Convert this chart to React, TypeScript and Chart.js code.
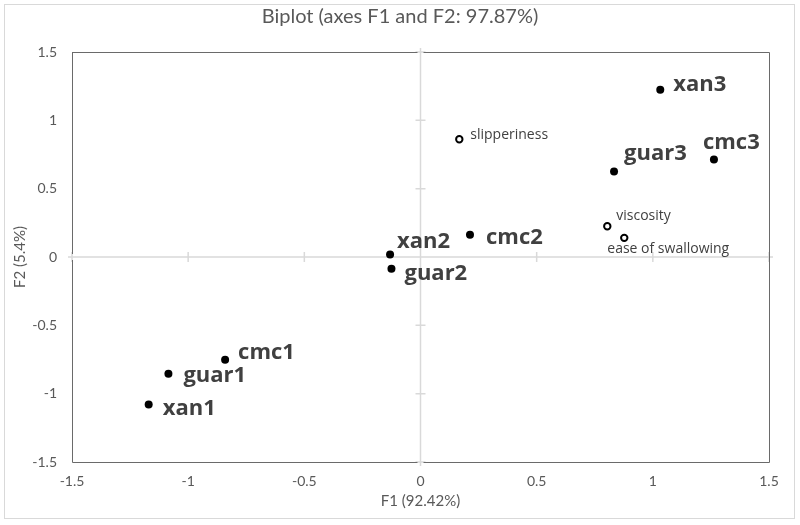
import React, { useEffect, useRef } from "react";
import { Chart, registerables } from "chart.js";

Chart.register(...registerables);

// ---- data ----
const obsNames = ["xan1", "guar1", "cmc1", "xan2", "guar2", "cmc2", "xan3", "guar3", "cmc3"];
const obsF1 = [-1.17, -1.085, -0.841, -0.131, -0.125, 0.213, 1.032, 0.833, 1.263];
const obsF2 = [-1.079, -0.855, -0.752, 0.018, -0.086, 0.162, 1.223, 0.626, 0.713];

const varNames = ["slipperiness", "viscosity", "ease of swallowing"];
const varF1 = [0.167, 0.804, 0.877];
const varF2 = [0.862, 0.225, 0.14];

const axisTicks = [-1.5, -1, -0.5, 0, 0.5, 1, 1.5];
const axisTickLabels = ["-1.5", "-1", "-0.5", "0", "0.5", "1", "1.5"];
const chartTitle = "Biplot (axes F1 and F2: 97.87%)";
const xTitle = "F1 (92.42%)";
const yTitle = "F2 (5.4%)";

// label placement (style): [dx, dy, align]
const obsLabelPlace: [number, number, CanvasTextAlign][] = [
  [14, 4, "left"],
  [15, 2, "left"],
  [13, -7, "left"],
  [7, -13, "left"],
  [13, 5, "left"],
  [16, 3, "left"],
  [13, -5, "left"],
  [10, -18, "left"],
  [-11, -17, "left"],
];
const varLabelPlace: [number, number, CanvasTextAlign][] = [
  [11, -4, "left"],
  [9, -10, "left"],
  [44, 11, "center"],
];

const TICK_FONT = "Lato";
const GRAY = "#595959";

const biplotPlugin = {
  id: "biplotDeco",
  beforeDraw(chart: any) {
    const ctx = chart.ctx;
    ctx.save();
    ctx.strokeStyle = "#d9d9d9";
    ctx.lineWidth = 1;
    ctx.strokeRect(4.5, 4.5, 790, 514);
    ctx.restore();
  },
  beforeDatasetsDraw(chart: any) {
    const { ctx, chartArea: a, scales } = chart;
    const x0 = scales.x.getPixelForValue(0);
    const y0 = scales.y.getPixelForValue(0);
    ctx.save();
    // zero lines
    ctx.strokeStyle = "#d9d9d9";
    ctx.lineWidth = 1.5;
    ctx.beginPath();
    ctx.moveTo(x0, a.top - 4);
    ctx.lineTo(x0, a.bottom + 4);
    ctx.moveTo(a.left - 4, y0);
    ctx.lineTo(a.right + 4, y0);
    // small tick marks on zero lines
    axisTicks.forEach((v) => {
      const py = scales.y.getPixelForValue(v);
      ctx.moveTo(x0 - 5, py);
      ctx.lineTo(x0 + 5, py);
      const px = scales.x.getPixelForValue(v);
      ctx.moveTo(px, y0 - 5);
      ctx.lineTo(px, y0 + 5);
    });
    ctx.stroke();
    // plot box
    ctx.strokeStyle = "#6a6a6a";
    ctx.lineWidth = 1;
    ctx.beginPath();
    ctx.moveTo(a.left, a.top + 0.5);
    ctx.lineTo(x0 - 3, a.top + 0.5);
    ctx.moveTo(x0 + 3, a.top + 0.5);
    ctx.lineTo(a.right + 0.5, a.top + 0.5);
    ctx.lineTo(a.right + 0.5, a.bottom + 0.5);
    ctx.lineTo(x0 + 3, a.bottom + 0.5);
    ctx.moveTo(x0 - 3, a.bottom + 0.5);
    ctx.lineTo(a.left + 0.5, a.bottom + 0.5);
    ctx.lineTo(a.left + 0.5, y0 + 3);
    ctx.moveTo(a.left + 0.5, y0 - 3);
    ctx.lineTo(a.left + 0.5, a.top);
    ctx.stroke();
    ctx.restore();
  },
  afterDatasetsDraw(chart: any) {
    const ctx = chart.ctx;
    ctx.save();
    ctx.textBaseline = "middle";
    const m0 = chart.getDatasetMeta(0);
    ctx.font = "bold 22px 'Open Sans'";
    ctx.fillStyle = "#404040";
    m0.data.forEach((pt: any, i: number) => {
      const [dx, dy, al] = obsLabelPlace[i];
      ctx.textAlign = al;
      ctx.fillText(obsNames[i], pt.x + dx, pt.y + dy);
    });
    const m1 = chart.getDatasetMeta(1);
    ctx.font = "14px 'Open Sans'";
    ctx.fillStyle = "#404040";
    m1.data.forEach((pt: any, i: number) => {
      const [dx, dy, al] = varLabelPlace[i];
      ctx.textAlign = al;
      ctx.fillText(varNames[i], pt.x + dx, pt.y + dy);
    });
    ctx.restore();
  },
};

const tickLabel = (v: any) => {
  const i = axisTicks.indexOf(Number(v));
  return i >= 0 ? axisTickLabels[i] : String(v);
};

export default function App() {
  const ref = useRef<HTMLCanvasElement>(null);
  useEffect(() => {
    document.body.style.margin = "0";
    const tickOpts = {
      color: GRAY,
      font: { family: TICK_FONT, size: 14 },
      callback: tickLabel,
    };
    const chart = new Chart(ref.current!, {
      type: "scatter",
      data: {
        datasets: [
          {
            label: "Observations",
            data: obsF1.map((x, i) => ({ x, y: obsF2[i] })),
            backgroundColor: "#000000",
            borderColor: "#000000",
            pointRadius: 4,
            borderWidth: 0,
          },
          {
            label: "Variables",
            data: varF1.map((x, i) => ({ x, y: varF2[i] })),
            backgroundColor: "#ffffff",
            borderColor: "#000000",
            pointRadius: 3.2,
            borderWidth: 2,
          },
        ],
      },
      options: {
        animation: false,
        responsive: false,
        layout: { padding: 0 },
        plugins: {
          legend: { display: false },
          tooltip: { enabled: false },
          title: {
            display: true,
            text: chartTitle,
            color: GRAY,
            font: { family: TICK_FONT, size: 20, weight: "normal" },
            padding: { top: 5, bottom: 23 },
          },
        },
        scales: {
          x: {
            type: "linear",
            min: -1.5,
            max: 1.5,
            afterBuildTicks: (s: any) => {
              s.ticks = axisTicks.map((v) => ({ value: v }));
            },
            afterFit: (s: any) => {
              s.height = 63;
            },
            grid: { display: false, drawTicks: false },
            border: { display: false },
            ticks: { ...tickOpts, padding: 11, maxRotation: 0 },
            title: {
              display: true,
              text: xTitle,
              color: GRAY,
              font: { family: TICK_FONT, size: 15 },
              padding: { top: 0, bottom: 15 },
            },
          },
          y: {
            type: "linear",
            min: -1.5,
            max: 1.5,
            afterBuildTicks: (s: any) => {
              s.ticks = axisTicks.map((v) => ({ value: v }));
            },
            afterFit: (s: any) => {
              s.width = 72;
            },
            grid: { display: false, drawTicks: false },
            border: { display: false },
            ticks: { ...tickOpts, padding: 15 },
            title: {
              display: true,
              text: yTitle,
              color: GRAY,
              font: { family: TICK_FONT, size: 15 },
              padding: { top: 11, bottom: 0 },
            },
          },
          yRight: {
            type: "linear",
            position: "right",
            display: true,
            min: -1.5,
            max: 1.5,
            afterFit: (s: any) => {
              s.width = 31;
            },
            grid: { display: false, drawTicks: false },
            border: { display: false },
            ticks: { display: false },
          },
        },
      },
      plugins: [biplotPlugin],
    });
    return () => chart.destroy();
  }, []);
  return (
    <div style={{ width: 800, height: 525 }}>
      <canvas ref={ref} width={800} height={525} style={{ display: "block" }} />
    </div>
  );
}
